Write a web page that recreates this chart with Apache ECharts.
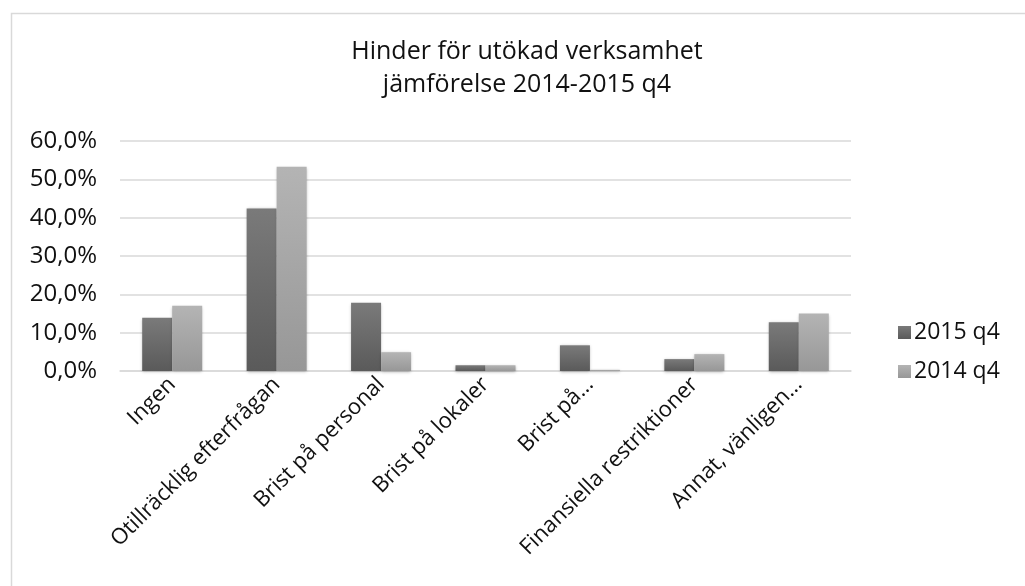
<!DOCTYPE html>
<html>
<head>
<meta charset="utf-8">
<script src="https://cdn.jsdelivr.net/npm/echarts@6/dist/echarts.min.js"></script>
<style>html,body{margin:0;padding:0;background:#fff;}#c{width:1025px;height:586px;}</style>
</head>
<body>
<div id="c"></div>
<script>
const categories = ["Ingen", "Otillräcklig efterfrågan", "Brist på personal", "Brist på lokaler", "Brist på…", "Finansiella restriktioner", "Annat, vänligen…"];
const series2015 = [0.139, 0.424, 0.178, 0.015, 0.067, 0.031, 0.127];
const series2014 = [0.170, 0.533, 0.049, 0.015, 0.003, 0.044, 0.150];
const seriesNames = ["2015 q4", "2014 q4"];
const titleLines = ["Hinder för utökad verksamhet", "jämförelse 2014-2015 q4"];

const FONT = "'Open Sans', Lato, sans-serif";
const chart = echarts.init(document.getElementById('c'));
function grad(top, bottom) {
  return new echarts.graphic.LinearGradient(0, 0, 0, 1, [{offset: 0, color: top}, {offset: 1, color: bottom}]);
}
chart.setOption({
  backgroundColor: '#fff',
  animation: false,
  graphic: [{
    type: 'rect', left: 9, top: 11, shape: {width: 1040, height: 600},
    style: {fill: 'none', stroke: '#d9d9d9', lineWidth: 1.5}, silent: true
  }],
  title: {
    text: titleLines.join('\n'),
    left: 522, top: 30, textAlign: 'center',
    textStyle: {fontFamily: FONT, fontSize: 25, fontWeight: 'normal', color: '#111', lineHeight: 33}
  },
  legend: {
    orient: 'vertical', left: 893, top: 313,
    itemWidth: 13, itemHeight: 13, itemGap: 10,
    icon: 'rect',
    textStyle: {fontFamily: FONT, fontSize: 23, color: '#111', padding: [0,0,0,-2], lineHeight: 29},
    data: seriesNames
  },
  grid: {left: 120, right: 174, top: 141, bottom: 215, containLabel: false},
  xAxis: {
    type: 'category', data: categories,
    axisTick: {show: false},
    axisLine: {lineStyle: {color: '#d9d9d9', width: 1.5}},
    axisLabel: {interval: 0, rotate: 45, fontFamily: FONT, fontSize: 22, color: '#111', margin: 10}
  },
  yAxis: {
    type: 'value', min: 0, max: 0.6, interval: 0.1,
    axisLine: {show: false}, axisTick: {show: false},
    splitLine: {lineStyle: {color: '#d9d9d9', width: 1.5}},
    axisLabel: {
      fontFamily: FONT, fontSize: 24, color: '#111', margin: 23,
      formatter: v => (v * 100).toFixed(1).replace('.', ',') + '%'
    }
  },
  series: [
    {
      name: seriesNames[0], type: 'bar', data: series2015, barWidth: 30, barGap: '0%',
      itemStyle: {color: grad('#7a7a7a', '#5a5a5a'), shadowBlur: 3, shadowColor: 'rgba(0,0,0,0.3)', shadowOffsetY: 1}
    },
    {
      name: seriesNames[1], type: 'bar', data: series2014, barWidth: 30,
      itemStyle: {color: grad('#b4b4b4', '#979797'), shadowBlur: 3, shadowColor: 'rgba(0,0,0,0.3)', shadowOffsetY: 1}
    }
  ]
});
</script>
</body>
</html>
